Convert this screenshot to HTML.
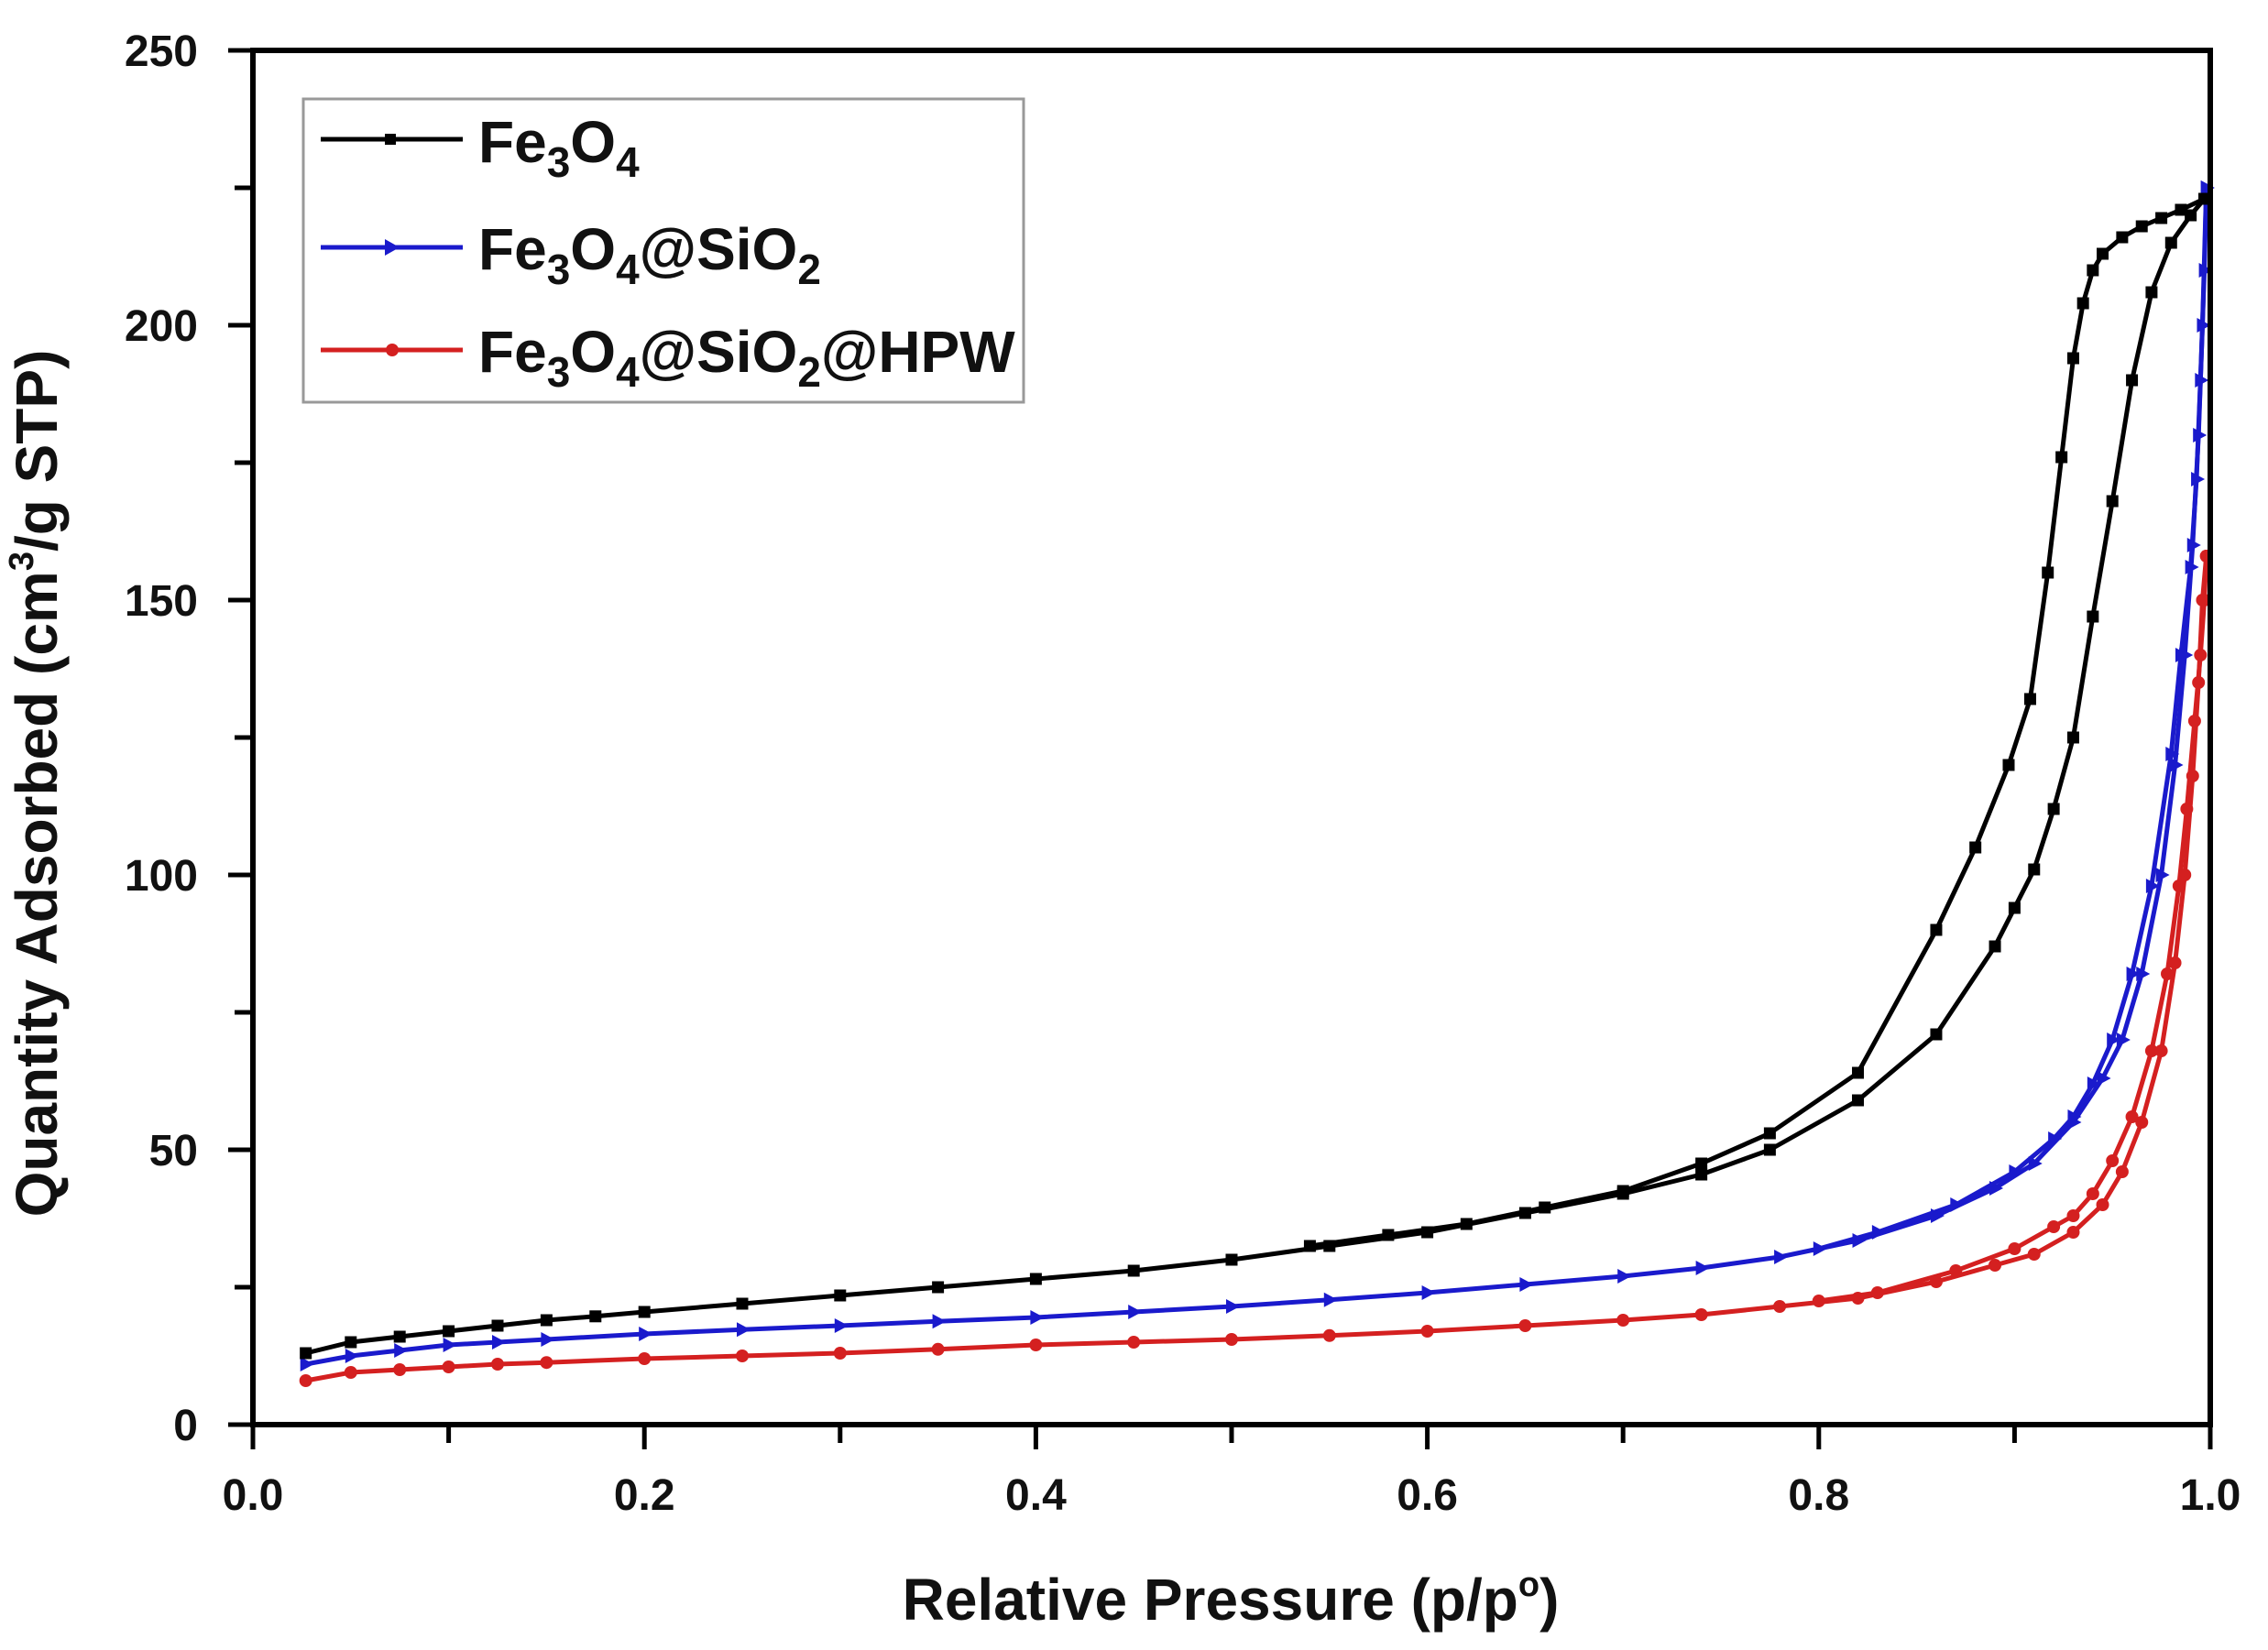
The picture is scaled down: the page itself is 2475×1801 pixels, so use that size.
<!DOCTYPE html>
<html><head><meta charset="utf-8"><style>
html,body{margin:0;padding:0;background:#fff;}
svg{display:block;}
text{font-family:"Liberation Sans",Arial,sans-serif;font-weight:bold;fill:#111;}
</style></head><body>
<svg id="s" width="2475" height="1801" viewBox="0 0 2475 1801" xmlns="http://www.w3.org/2000/svg">
<rect width="2475" height="1801" fill="#fff"/>
<g id="plot"></g>
<rect x="276" y="55" width="2136" height="1500" fill="none" stroke="#000" stroke-width="6"/>
<g id="ticks" stroke="#000" stroke-width="5"></g>
<g font-size="48" text-anchor="end" id="ylab"></g>
<g font-size="48" text-anchor="middle" id="xlab"></g>
<text x="1343" y="1768" font-size="64" text-anchor="middle">Relative Pressure (p/p<tspan dy="-26" font-size="38">o</tspan><tspan dy="26">)</tspan></text>
<text transform="translate(62,855) rotate(-90)" font-size="64" text-anchor="middle">Quantity Adsorbed (cm<tspan dy="-26" font-size="38">3</tspan><tspan dy="26">/g STP)</tspan></text>
<rect x="331" y="108" width="786" height="331" fill="#fff" stroke="#999" stroke-width="3"/>
<g stroke-width="5">
<line x1="350" y1="152" x2="505" y2="152" stroke="#000"/><rect x="420" y="146" width="12" height="12" fill="#000"/>
<line x1="350" y1="270" x2="505" y2="270" stroke="#1a1acc"/><polygon points="420,261 436,270 420,279" fill="#1a1acc"/>
<line x1="350" y1="382" x2="505" y2="382" stroke="#d42020"/><circle cx="428" cy="382" r="7" fill="#d42020"/>
</g>
<g font-size="64">
<text x="522" y="177">Fe<tspan dy="16" font-size="46">3</tspan><tspan dy="-16">O</tspan><tspan dy="16" font-size="46">4</tspan></text>
<text x="522" y="294">Fe<tspan dy="16" font-size="46">3</tspan><tspan dy="-16">O</tspan><tspan dy="16" font-size="46">4</tspan><tspan dy="-16">@SiO</tspan><tspan dy="16" font-size="46">2</tspan></text>
<text x="522" y="406">Fe<tspan dy="16" font-size="46">3</tspan><tspan dy="-16">O</tspan><tspan dy="16" font-size="46">4</tspan><tspan dy="-16">@SiO</tspan><tspan dy="16" font-size="46">2</tspan><tspan dy="-16">@HPW</tspan></text>
</g>
</svg>
<script>
var X=function(p){return 276+p*2136;},Y=function(v){return 1555-v*6;};
var ns="http://www.w3.org/2000/svg";
function el(t,a,par){var e=document.createElementNS(ns,t);for(var k in a)e.setAttribute(k,a[k]);document.getElementById(par).appendChild(e);return e;}
for(var i=0;i<=10;i++){var x=X(i/10);el('line',{x1:x,y1:1555,x2:x,y2:i%2==0?1582:1575},'ticks');}
for(var i=0;i<=10;i++){var y=1555-i*150;el('line',{x1:276,y1:y,x2:i%2==0?249:256,y2:y},'ticks');}
for(var i=0;i<=5;i++){var t=el('text',{x:216,y:1555-i*300+17},'ylab');t.textContent=String(i*50);}
for(var i=0;i<=5;i++){var t=el('text',{x:X(i*0.2),y:1648},'xlab');t.textContent=(i*0.2).toFixed(1);}
var ads0=[[0.027,13],[0.05,15],[0.075,16],[0.1,17],[0.125,18],[0.15,19],[0.175,19.7],[0.2,20.5],[0.25,22],[0.3,23.5],[0.35,25],[0.4,26.5],[0.45,28],[0.5,30],[0.55,32.5],[0.6,35],[0.65,38.5],[0.7,42],[0.74,45.5],[0.775,50],[0.82,59],[0.86,71],[0.89,87],[0.9,94],[0.91,101],[0.92,112],[0.93,125],[0.94,147],[0.95,168],[0.96,190],[0.97,206],[0.98,215],[0.99,220],[0.997,223]];
var des0=[[0.997,223],[0.985,221],[0.975,219.5],[0.965,218],[0.955,216],[0.945,213],[0.94,210],[0.935,204],[0.93,194],[0.924,176],[0.917,155],[0.908,132],[0.897,120],[0.88,105],[0.86,90],[0.82,64],[0.775,53],[0.74,47.5],[0.7,42.5],[0.66,39.5],[0.62,36.5],[0.58,34.5],[0.54,32.5]];
var ads1=[[0.027,11],[0.05,12.5],[0.075,13.5],[0.1,14.5],[0.125,15],[0.15,15.5],[0.2,16.5],[0.25,17.3],[0.3,18],[0.35,18.8],[0.4,19.5],[0.45,20.5],[0.5,21.5],[0.55,22.7],[0.6,24],[0.65,25.5],[0.7,27],[0.74,28.5],[0.78,30.5],[0.82,33.5],[0.86,38],[0.89,43],[0.91,47.5],[0.93,55],[0.945,63],[0.955,70],[0.965,82],[0.975,100],[0.982,120],[0.987,140],[0.991,160],[0.994,180],[0.996,200],[0.998,225]];
var des1=[[0.998,225],[0.997,210],[0.995,190],[0.993,172],[0.99,156],[0.985,140],[0.98,122],[0.97,98],[0.96,82],[0.95,70],[0.94,62],[0.93,56],[0.92,52],[0.9,46],[0.87,40],[0.83,35],[0.8,32]];
var ads2=[[0.027,8],[0.05,9.5],[0.075,10],[0.1,10.5],[0.125,11],[0.15,11.3],[0.2,12],[0.25,12.5],[0.3,13],[0.35,13.7],[0.4,14.5],[0.45,15],[0.5,15.5],[0.55,16.2],[0.6,17],[0.65,18],[0.7,19],[0.74,20],[0.78,21.5],[0.82,23],[0.86,26],[0.89,29],[0.91,31],[0.93,35],[0.945,40],[0.955,46],[0.965,55],[0.975,68],[0.982,84],[0.987,100],[0.991,118],[0.994,135],[0.996,150],[0.998,158]];
var des2=[[0.998,158],[0.997,150],[0.995,140],[0.992,128],[0.988,112],[0.984,98],[0.978,82],[0.97,68],[0.96,56],[0.95,48],[0.94,42],[0.93,38],[0.92,36],[0.9,32],[0.87,28],[0.83,24],[0.8,22.5]];
function series(d,col,m){var pts=d.map(function(p){return X(p[0]).toFixed(1)+','+Y(p[1]).toFixed(1);}).join(' ');
el('polyline',{points:pts,fill:'none',stroke:col,'stroke-width':5,'stroke-linejoin':'round'},'plot');
d.forEach(function(p){var x=X(p[0]),y=Y(p[1]);
if(m=='s')el('rect',{x:x-6.5,y:y-6.5,width:13,height:13,fill:col},'plot');
else if(m=='t')el('polygon',{points:(x-6)+','+(y-8)+' '+(x+9)+','+y+' '+(x-6)+','+(y+8),fill:col},'plot');
else el('circle',{cx:x,cy:y,r:7,fill:col},'plot');});}
series(ads2,'#d42020','c');series(des2,'#d42020','c');
series(ads1,'#1a1acc','t');series(des1,'#1a1acc','t');
series(ads0,'#000','s');series(des0,'#000','s');
</script>
</body></html>
